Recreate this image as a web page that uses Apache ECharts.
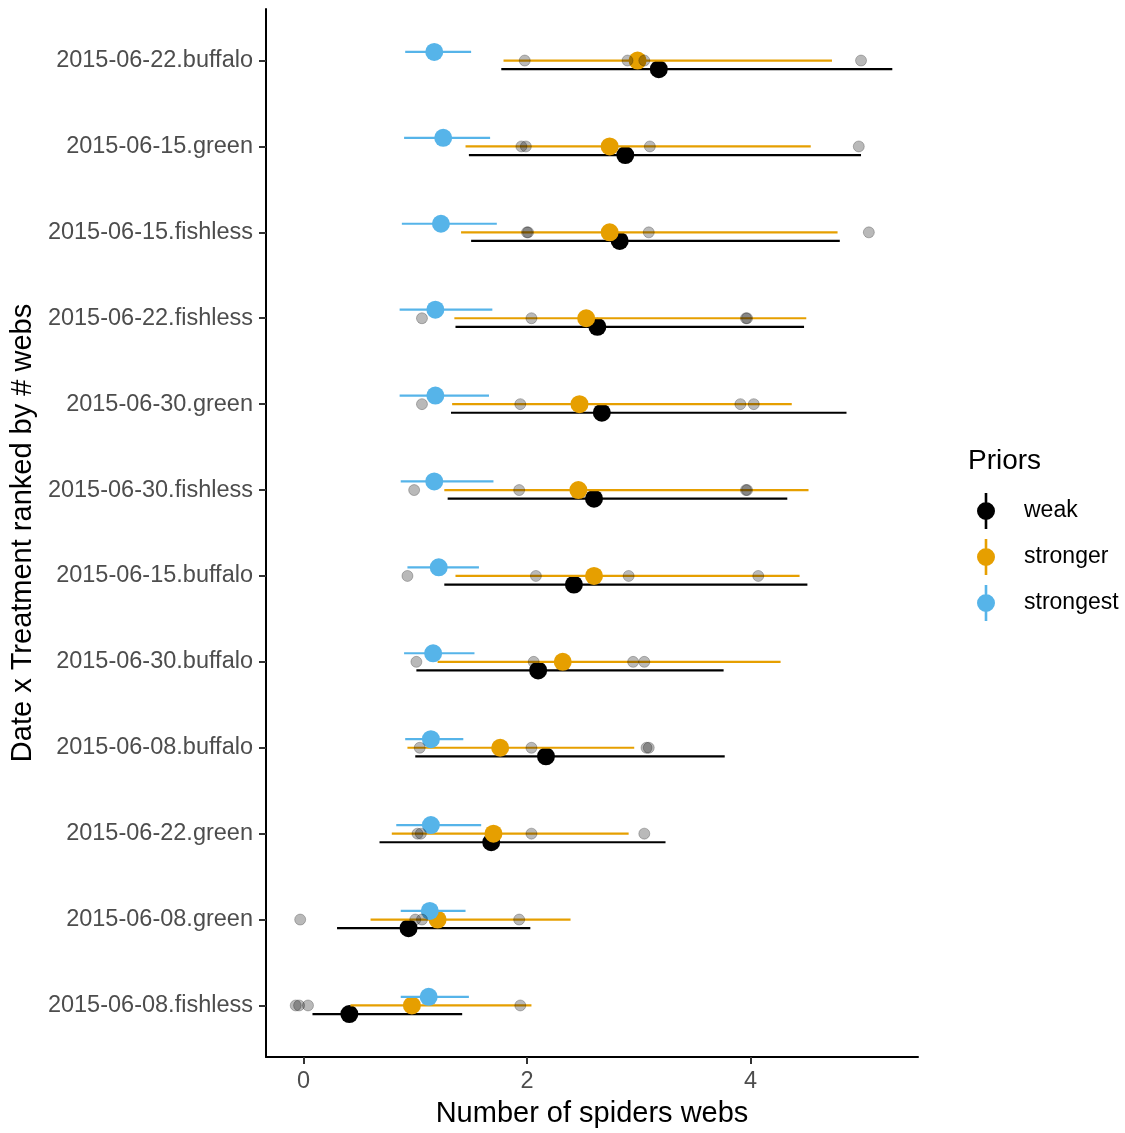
<!DOCTYPE html>
<html>
<head>
<meta charset="utf-8">
<script src="https://cdn.jsdelivr.net/npm/echarts@6/dist/echarts.min.js"></script>
<style>
  html, body { margin: 0; padding: 0; background: #ffffff; }
  #chart { width: 1125px; height: 1133px; }
</style>
</head>
<body>
<div id="chart"></div>
<script>
// Date x Treatment groups, ranked by number of webs (top = most)
const categories = [
  '2015-06-22.buffalo', '2015-06-15.green', '2015-06-15.fishless', '2015-06-22.fishless',
  '2015-06-30.green', '2015-06-30.fishless', '2015-06-15.buffalo', '2015-06-30.buffalo',
  '2015-06-08.buffalo', '2015-06-22.green', '2015-06-08.green', '2015-06-08.fishless'
];

// Posterior estimates under each prior: mean and interval bounds
const weakMean = [3.18, 2.88, 2.83, 2.63, 2.67, 2.60, 2.42, 2.10, 2.17, 1.68, 0.94, 0.41];
const weakLo   = [1.77, 1.48, 1.50, 1.36, 1.32, 1.29, 1.26, 1.01, 1.00, 0.68, 0.30, 0.08];
const weakHi   = [5.27, 4.99, 4.80, 4.48, 4.86, 4.33, 4.51, 3.76, 3.77, 3.24, 2.03, 1.42];

const strongerMean = [2.99, 2.74, 2.74, 2.53, 2.47, 2.46, 2.60, 2.32, 1.76, 1.70, 1.20, 0.97];
const strongerLo   = [1.79, 1.45, 1.41, 1.35, 1.33, 1.26, 1.36, 1.20, 0.93, 0.79, 0.60, 0.42];
const strongerHi   = [4.73, 4.54, 4.78, 4.50, 4.37, 4.52, 4.44, 4.27, 2.96, 2.91, 2.39, 2.04];

const strongestMean = [1.17, 1.25, 1.23, 1.18, 1.18, 1.17, 1.21, 1.16, 1.14, 1.14, 1.13, 1.12];
const strongestLo   = [0.91, 0.90, 0.88, 0.86, 0.86, 0.87, 0.93, 0.90, 0.91, 0.83, 0.87, 0.87];
const strongestHi   = [1.50, 1.67, 1.73, 1.69, 1.66, 1.70, 1.57, 1.53, 1.43, 1.59, 1.45, 1.48];

// Observed web counts (jittered) per group
const observedWebs = [
  [1.98, 2.90, 3.05, 4.99],
  [1.95, 1.99, 3.10, 4.97],
  [2.00, 2.01, 3.09, 5.06],
  [1.06, 2.04, 3.96, 3.97],
  [1.06, 1.94, 3.91, 4.03],
  [0.99, 1.93, 3.96, 3.97],
  [0.93, 2.08, 2.91, 4.07],
  [1.01, 2.06, 2.95, 3.05],
  [1.04, 2.04, 3.07, 3.09],
  [1.02, 1.05, 2.04, 3.05],
  [-0.03, 1.00, 1.06, 1.93],
  [-0.07, -0.04, 0.04, 1.94]
];

const xTicks = [0, 2, 4];
const priorNames = ['weak', 'stronger', 'strongest'];
const priorColors = ['#000000', '#E69F00', '#56B4E9'];
const dodge = [0.1, 0, -0.1];

const FONT = '"Liberation Sans", Arial, sans-serif';

function rowsFor(mean, lo, hi) {
  return categories.map((c, i) => [i, lo[i], mean[i], hi[i]]);
}
const priorRows = [
  rowsFor(weakMean, weakLo, weakHi),
  rowsFor(strongerMean, strongerLo, strongerHi),
  rowsFor(strongestMean, strongestLo, strongestHi)
];

// point + interval drawn at the dodged row position
function makeRenderer(offset, color) {
  return function (params, api) {
    const y = api.value(0) + offset;
    const lo = api.coord([api.value(1), y]);
    const mid = api.coord([api.value(2), y]);
    const hi = api.coord([api.value(3), y]);
    return {
      type: 'group',
      children: [
        { type: 'line', shape: { x1: lo[0], y1: lo[1], x2: hi[0], y2: hi[1] },
          style: { stroke: color, lineWidth: 2.2 } },
        { type: 'circle', shape: { cx: mid[0], cy: mid[1], r: 9 },
          style: { fill: color } }
      ]
    };
  };
}

const pointRangeIcon = 'path://M-1.3,-18 L1.3,-18 L1.3,18 L-1.3,18 Z M0,-9 A9,9 0 1,1 0,9 A9,9 0 1,1 0,-9 Z';

const series = priorNames.map((name, k) => ({
  name: name,
  type: 'custom',
  color: priorColors[k],
  renderItem: makeRenderer(dodge[k], priorColors[k]),
  encode: { x: [1, 2, 3], y: 0 },
  data: priorRows[k],
  z: 2 + k
}));

const obsPoints = [];
observedWebs.forEach((row, i) => row.forEach(v => obsPoints.push([v, i])));
series.push({
  name: 'observed',
  type: 'scatter',
  data: obsPoints,
  symbolSize: 11,
  itemStyle: { color: 'rgba(0,0,0,0.34)', borderColor: 'rgba(0,0,0,0.3)', borderWidth: 1 },
  z: 10,
  silent: true
});

const chart = echarts.init(document.getElementById('chart'), null, { renderer: 'canvas' });
chart.setOption({
  animation: false,
  backgroundColor: '#ffffff',
  textStyle: { fontFamily: FONT },
  title: {
    text: 'Priors',
    left: 963, top: 442,
    textStyle: { fontFamily: FONT, fontSize: 28, fontWeight: 'normal', color: '#000000' }
  },
  legend: {
    data: priorNames,
    orient: 'vertical',
    left: 977, top: 493,
    padding: 0,
    itemWidth: 18, itemHeight: 36, itemGap: 10,
    icon: pointRangeIcon,
    selectedMode: false,
    textStyle: { fontFamily: FONT, fontSize: 23, color: '#000000', padding: [0, 0, 0, 24] }
  },
  grid: { left: 266, right: 207, top: 9, bottom: 72, containLabel: false },
  xAxis: {
    type: 'value',
    min: -0.336, max: 5.5,
    name: 'Number of spiders webs',
    nameLocation: 'middle',
    nameGap: 42,
    nameTextStyle: { fontFamily: FONT, fontSize: 29, color: '#000000' },
    splitLine: { show: false },
    axisLine: { show: true, onZero: false, lineStyle: { color: '#000000', width: 2 } },
    axisTick: { show: true, length: 7, customValues: xTicks, lineStyle: { color: '#333333', width: 2 } },
    axisLabel: { customValues: xTicks, margin: 13, fontSize: 23.5, fontFamily: FONT, color: '#4D4D4D' }
  },
  yAxis: {
    type: 'value',
    inverse: true,
    min: -0.6, max: 11.6,
    name: 'Date x Treatment ranked by # webs',
    nameLocation: 'middle',
    nameGap: 226,
    nameRotate: 90,
    nameTextStyle: { fontFamily: FONT, fontSize: 29, color: '#000000' },
    splitLine: { show: false },
    axisLine: { show: true, onZero: false, lineStyle: { color: '#000000', width: 2 } },
    axisTick: { show: true, length: 7, customValues: categories.map((c, i) => i),
                lineStyle: { color: '#333333', width: 2 } },
    axisLabel: {
      customValues: categories.map((c, i) => i),
      formatter: v => categories[Math.round(v)],
      margin: 13, fontSize: 23.5, fontFamily: FONT, color: '#4D4D4D'
    }
  },
  series: series
});
</script>
</body>
</html>
